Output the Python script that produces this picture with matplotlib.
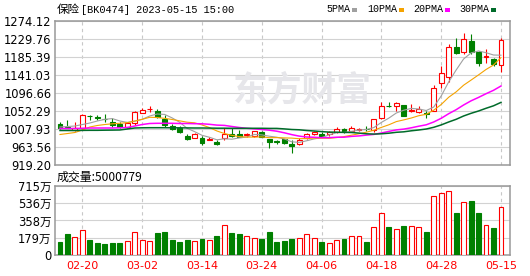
import numpy as np
import matplotlib
matplotlib.use("Agg")
from matplotlib import pyplot as plt
from matplotlib.patches import Rectangle

plt.rcParams['font.family'] = ['DejaVu Sans', 'Noto Sans CJK SC']

# ---- data ----
board_name = "保险"
board_info = "[BK0474] 2023-05-15 15:00"
last_volume = "5000779"

dates = ["02-15", "02-16", "02-17", "02-20", "02-21", "02-22", "02-23", "02-24", "02-27", "02-28",
         "03-01", "03-02", "03-03", "03-06", "03-07", "03-08", "03-09", "03-10", "03-13", "03-14",
         "03-15", "03-16", "03-17", "03-20", "03-21", "03-22", "03-23", "03-24", "03-27", "03-28",
         "03-29", "03-30", "03-31", "04-03", "04-04", "04-06", "04-07", "04-10", "04-11", "04-12",
         "04-13", "04-14", "04-17", "04-18", "04-19", "04-20", "04-21", "04-24", "04-25", "04-26",
         "04-27", "04-28", "05-04", "05-05", "05-08", "05-09", "05-10", "05-11", "05-12", "05-15"]
shown_dates = ["02-20", "03-02", "03-14", "03-24", "04-06", "04-18", "04-28", "05-15"]

opens = [1020.3, 1012.9, 1005.5, 1009.7, 1041.2, 1036.8, 1033.3, 1025.9, 1020.3, 1013.6,
         1022.0, 1048.1, 1056.5, 1052.3, 1031.8, 1015.3, 1011.1, 991.9, 986.5, 986.5,
         980.8, 976.6, 985.7, 995.6, 994.9, 993.6, 989.5, 1001.3, 983.3, 977.6,
         982.6, 970.2, 971.7, 986.8, 995.1, 995.6, 994.4, 1001.3, 1007.2, 1001.8,
         1006.0, 1008.7, 1005.5, 1034.3, 1065.8, 1065.4, 1066.3, 1052.8, 1050.6, 1047.9,
         1053.5, 1120.6, 1135.4, 1209.3, 1197.0, 1224.8, 1197.0, 1186.6, 1180.5, 1166.9]
highs = [1025.2, 1030.1, 1025.9, 1043.7, 1042.4, 1042.4, 1044.9, 1035.0, 1025.2, 1025.2,
         1052.3, 1059.0, 1064.6, 1056.5, 1042.4, 1020.3, 1014.1, 994.4, 998.1, 989.5,
         987.0, 979.6, 1010.4, 1009.2, 1005.5, 998.8, 1003.0, 1003.0, 984.5, 980.8,
         983.3, 979.6, 985.7, 998.8, 1001.8, 1000.3, 1003.0, 1012.1, 1011.6, 1014.1,
         1011.1, 1014.1, 1032.6, 1075.2, 1073.3, 1074.5, 1068.3, 1069.6, 1065.8, 1051.1,
         1116.4, 1163.2, 1217.4, 1231.0, 1243.8, 1242.1, 1200.2, 1206.3, 1183.7, 1233.0]
lows = [1007.9, 1009.2, 1003.7, 1008.4, 1030.1, 1030.1, 1025.9, 1013.6, 1010.4, 1010.4,
        1017.8, 1046.6, 1050.6, 1034.3, 1013.6, 1005.5, 998.1, 980.8, 985.7, 968.5,
        979.6, 968.5, 980.8, 988.2, 987.5, 989.0, 988.2, 988.2, 962.1, 970.2,
        970.2, 950.0, 969.7, 984.5, 993.1, 987.0, 990.7, 998.8, 997.3, 999.8,
        1001.8, 1003.7, 1001.3, 1033.8, 1062.2, 1053.5, 1040.0, 1050.6, 1046.6, 1035.6,
        1051.1, 1109.0, 1124.5, 1194.0, 1192.8, 1194.0, 1164.0, 1169.8, 1164.0, 1147.2]
closes = [1011.1, 1010.4, 1009.7, 1042.4, 1040.0, 1035.3, 1032.1, 1017.8, 1012.9, 1023.5,
          1050.6, 1054.8, 1057.7, 1038.3, 1017.8, 1007.9, 1001.3, 983.3, 996.8, 972.7,
          983.8, 970.2, 995.6, 991.9, 989.0, 994.9, 1001.8, 989.0, 976.6, 975.8,
          974.2, 966.0, 982.0, 995.6, 1000.3, 991.2, 1000.3, 1007.2, 1000.5, 1011.6,
          1007.4, 1007.2, 1031.4, 1063.4, 1064.1, 1070.8, 1041.2, 1054.0, 1056.0, 1045.4,
          1110.2, 1146.0, 1209.3, 1196.0, 1229.0, 1197.0, 1169.8, 1187.9, 1167.4, 1227.3]

ma5 = [1012.9, 1014.1, 1015.3, 1019.0, 1022.7, 1027.7, 1031.8, 1033.6, 1027.7, 1024.2,
       1027.4, 1031.8, 1040.0, 1044.9, 1043.9, 1035.3, 1024.7, 1009.7, 1001.5, 992.4,
       987.5, 981.3, 983.8, 982.8, 986.0, 988.2, 994.6, 993.4, 990.2, 987.7,
       983.5, 976.4, 974.9, 978.9, 983.5, 986.7, 993.4, 998.6, 999.6, 1002.0,
       1005.2, 1006.7, 1011.6, 1024.2, 1034.8, 1047.4, 1054.3, 1058.7, 1057.2, 1053.5,
       1062.0, 1089.3, 1123.8, 1153.3, 1180.5, 1195.5, 1200.2, 1196.0, 1190.3, 1189.8]
ma10 = [994.4, 996.8, 999.3, 1005.5, 1012.9, 1016.6, 1019.0, 1020.8, 1022.0, 1023.5,
        1027.4, 1031.8, 1036.8, 1036.3, 1034.1, 1031.4, 1028.1, 1024.7, 1023.2, 1018.0,
        1011.4, 1003.0, 996.8, 992.2, 989.2, 988.0, 988.0, 988.5, 986.5, 986.7,
        986.0, 985.5, 984.0, 984.5, 985.5, 985.3, 985.0, 986.7, 989.2, 992.7,
        996.1, 1000.1, 1005.0, 1011.9, 1018.3, 1026.2, 1030.4, 1035.0, 1040.7, 1044.2,
        1054.3, 1068.3, 1086.1, 1099.4, 1115.9, 1128.5, 1141.3, 1154.6, 1165.7, 1183.9]
ma20 = [1009.2, 1009.2, 1009.2, 1009.7, 1010.4, 1010.4, 1010.4, 1010.4, 1010.9, 1011.6,
        1015.3, 1019.0, 1021.5, 1022.0, 1022.0, 1022.0, 1021.5, 1021.5, 1021.0, 1020.8,
        1019.5, 1017.5, 1016.8, 1014.1, 1011.6, 1009.7, 1008.2, 1006.7, 1005.0, 1002.5,
        998.6, 994.1, 990.4, 988.2, 987.5, 986.5, 986.5, 987.7, 987.7, 989.7,
        990.9, 992.9, 994.6, 998.1, 1002.0, 1005.7, 1007.7, 1010.9, 1014.8, 1018.3,
        1025.2, 1034.3, 1045.6, 1055.5, 1067.1, 1077.4, 1085.8, 1094.9, 1103.3, 1113.9]
ma30 = [1004.2, 1004.2, 1004.2, 1004.5, 1004.7, 1004.7, 1005.0, 1005.2, 1005.5, 1007.9,
        1010.4, 1010.9, 1011.1, 1011.1, 1011.1, 1010.9, 1010.9, 1010.6, 1010.4, 1010.4,
        1010.2, 1009.9, 1009.9, 1009.7, 1009.7, 1009.7, 1009.7, 1009.7, 1009.4, 1009.4,
        1008.2, 1006.7, 1006.0, 1004.2, 1003.0, 1001.5, 1000.3, 1000.1, 999.6, 999.3,
        997.8, 996.1, 995.4, 996.1, 997.6, 999.8, 1001.0, 1003.5, 1005.5, 1007.9,
        1012.1, 1018.0, 1025.2, 1031.8, 1040.0, 1046.6, 1052.3, 1059.0, 1065.1, 1073.5]

volumes = [138, 218, 183, 259, 155, 121, 110, 121, 121, 145,
           235, 155, 145, 225, 238, 155, 135, 155, 145, 166,
           155, 197, 307, 225, 214, 197, 173, 166, 238, 135,
           145, 166, 173, 214, 173, 135, 121, 155, 166, 193,
           193, 135, 287, 432, 287, 266, 300, 300, 287, 238,
           608, 639, 660, 435, 546, 556, 435, 307, 280, 500]  # 万

price_ticks = [919.20, 963.56, 1007.93, 1052.29, 1096.66, 1141.03, 1185.39, 1229.76, 1274.12]
vol_ticks = [0, 179, 358, 536, 715]
vol_tick_labels = ["0", "179万", "358万", "536万", "715万"]

ma_names = ["5PMA", "10PMA", "20PMA", "30PMA"]
ma_colors = ["#a0a0a0", "#f5a300", "#ff00ff", "#006b2a"]
RED, GREEN = "#ff0000", "#008000"
GRID = "#d2d2d2"

W, H = 530, 276


def fx(px):
    return px / W


def fy(py):
    return 1 - py / H


fig = plt.figure(figsize=(W / 100, H / 100), dpi=100)
ax = fig.add_axes([fx(55), fy(165), fx(454.5), 144 / H])
axv = fig.add_axes([fx(55), fy(255), fx(454.5), 69 / H])

o, h, l, c = map(np.array, (opens, highs, lows, closes))
x = np.arange(len(c))
up = c >= o
cols = np.where(up, RED, GREEN)

# candles
ax.vlines(x, l, h, colors=cols, linewidth=0.8, zorder=3)
body = np.maximum(np.abs(c - o), 0.9)
ax.bar(x, body, bottom=np.minimum(o, c), width=0.66,
       facecolor=np.where(up, "white", GREEN), edgecolor=cols, linewidth=0.8, zorder=4)

for ma, col, lw in zip([ma5, ma10, ma20, ma30], ma_colors, [0.8, 0.8, 1.1, 1.1]):
    ax.plot(x, ma, color=col, linewidth=lw, zorder=5)

# volume
axv.bar(x, volumes, width=0.66, facecolor=np.where(up, "white", GREEN),
        edgecolor=cols, linewidth=0.8, zorder=3)

tick_pos = [dates.index(d) for d in shown_dates]
for a in (ax, axv):
    a.set_xlim(-0.67, len(x) - 1 + 1.14)
    a.set_xticks(tick_pos)
    a.grid(axis="x", color="#c8c8c8", linestyle=(0, (3, 3)), linewidth=0.8)
    a.grid(axis="y", color=GRID, linestyle="-", linewidth=0.8)
    a.set_axisbelow(True)
    for s in a.spines.values():
        s.set_color("#999999")
        s.set_linewidth(1.1)
    a.tick_params(length=0, labelsize=8.3, pad=2.5)

ax.set_ylim(price_ticks[0], price_ticks[-1])
ax.set_yticks(price_ticks)
ax.set_yticklabels([f"{v:.2f}" for v in price_ticks])
ax.set_xticklabels([])

axv.set_ylim(0, vol_ticks[-1])
axv.set_yticks(vol_ticks)
axv.set_yticklabels(vol_tick_labels)
axv.set_xticklabels(shown_dates, color=RED, fontsize=8)
axv.tick_params(axis="x", pad=4.5)

# watermark
ax.text(fx(302), fy(90), "东方财富", transform=fig.transFigure, ha="center", va="center",
        fontsize=25, fontweight="bold", color="#e6e6ea", family="Noto Sans CJK SC", zorder=1)

# header
fig.text(fx(57), fy(10), board_name, ha="left", va="center", fontsize=8.3,
         family="Noto Sans CJK SC")
fig.text(fx(81), fy(10), board_info, ha="left", va="center", fontsize=7.4,
         family="Liberation Mono")

leg_x = [326, 367, 413, 459]
for name, col, lx in zip(ma_names, ma_colors, leg_x):
    t = fig.text(fx(lx), fy(9), name, ha="left", va="center", fontsize=7.2,
                 family="Liberation Mono")
    mx = lx + 5.8 * len(name) + 2.5
    fig.add_artist(Rectangle((fx(mx), fy(11.5)), 5 / W, 3 / H, transform=fig.transFigure,
                             facecolor=col, edgecolor="none"))

fig.text(fx(57), fy(177), "成交量:" + last_volume, ha="left", va="center", fontsize=8.6,
         family="Noto Sans CJK SC")

fig.savefig("out.png", dpi=100)
